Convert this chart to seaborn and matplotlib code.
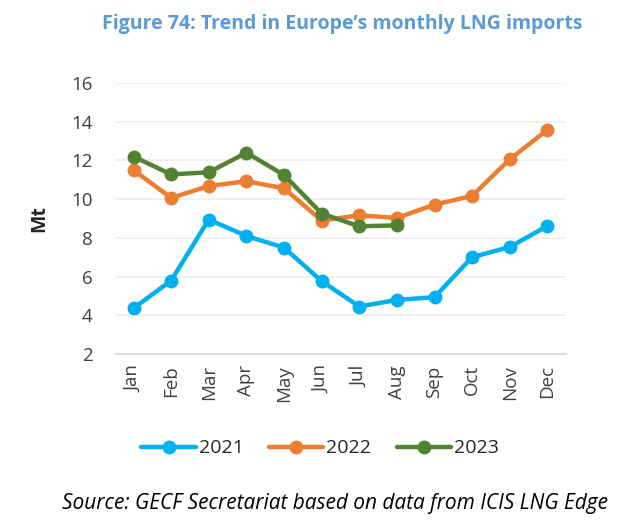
import matplotlib
matplotlib.use("Agg")
import matplotlib.pyplot as plt
import seaborn as sns
import pandas as pd

# Datos (Mt)
months = ["Jan", "Feb", "Mar", "Apr", "May", "Jun", "Jul", "Aug", "Sep", "Oct", "Nov", "Dec"]
imp_2021 = [4.37, 5.8, 8.95, 8.1, 7.5, 5.77, 4.46, 4.8, 4.94, 7.01, 7.53, 8.62]
imp_2022 = [11.5, 10.07, 10.68, 10.93, 10.56, 8.9, 9.17, 9.03, 9.72, 10.17, 12.06, 13.58]
imp_2023 = [12.2, 11.28, 11.39, 12.4, 11.25, 9.26, 8.6, 8.65]
years = ["2021", "2022", "2023"]
colors = ["#00B0F0", "#ED7D31", "#548235"]

sns.set_style("white")
plt.rcParams["font.family"] = ["Open Sans", "DejaVu Sans"]

fig = plt.figure(figsize=(6.34, 5.27), dpi=100)
ax = fig.add_axes([0.181, 0.328, 0.712, 0.5145])

series = [imp_2021, imp_2022, imp_2023]
for yr, vals, col in zip(years, series, colors):
    df = pd.DataFrame({"month": months[:len(vals)], "Mt": vals})
    sns.lineplot(data=df, x="month", y="Mt", ax=ax, color=col, linewidth=3.2,
                 marker="o", markersize=10, markeredgewidth=0, label=yr, sort=False)

ax.set_xlim(-0.5, 11.5)
ax.set_ylim(2, 16)
ax.set_yticks(range(2, 17, 2))
ax.grid(axis="y", color="#EDEDED", linewidth=1.2)
ax.set_axisbelow(True)
for s in ["top", "right", "left"]:
    ax.spines[s].set_visible(False)
ax.spines["bottom"].set_color("#D9D9D9")
ax.spines["bottom"].set_linewidth(1.2)
ax.tick_params(axis="both", length=0, labelsize=13.5, colors="#404040")
ax.tick_params(axis="y", pad=16)
ax.tick_params(axis="x", labelrotation=90, pad=8)
ax.set_xlabel("")
ax.set_ylabel("Mt", fontsize=14, fontweight="bold", labelpad=16)

ax.legend(loc="upper center", bbox_to_anchor=(0.455, -0.25), ncol=3, frameon=False,
          fontsize=14, handlelength=2.8, columnspacing=1.3, handletextpad=0.15)

fig.text(0.54, 0.955, "Figure 74: Trend in Europe’s monthly LNG imports", ha="center",
         va="center", fontsize=14, fontweight="bold", color="#5B9BD5")
fig.text(0.528, 0.045, "Source: GECF Secretariat based on data from ICIS LNG Edge", ha="center",
         va="center", fontsize=15, style="italic", color="black")

fig.savefig("out.png", dpi=100)
